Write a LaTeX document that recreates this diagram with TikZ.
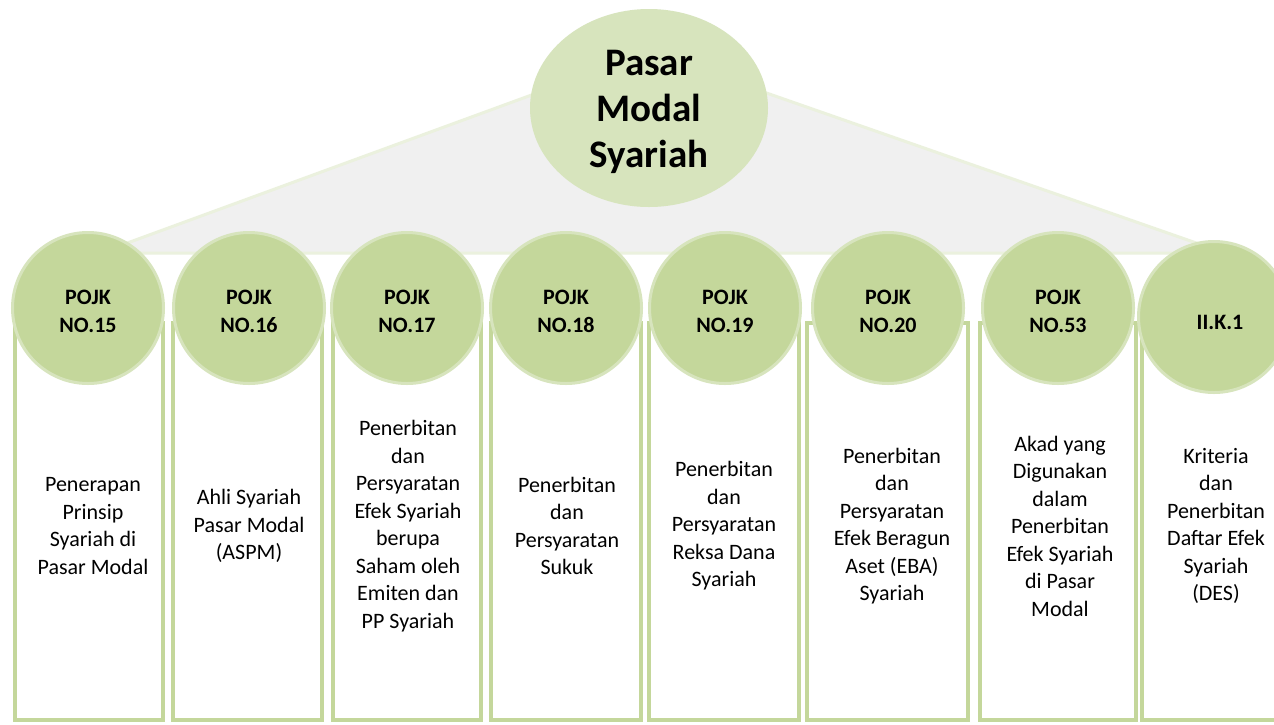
\documentclass[tikz,border=0pt]{standalone}
\usepackage{fontspec}
\setmainfont{Carlito}
\usetikzlibrary{positioning,shapes.geometric}
\definecolor{hijau}{HTML}{C4D79B}
\definecolor{hijaumuda}{HTML}{D7E4BD}
\definecolor{hijaupucat}{HTML}{EBF1DE}
\definecolor{abu}{HTML}{F0F0F0}
\tikzset{
  pojk/.style={circle, fill=hijau, draw=hijaumuda, line width=3pt, minimum size=151pt, inner sep=0pt},
  pojkteks/.style={align=center, inner sep=0pt, font=\fontsize{22}{28}\selectfont\bfseries},
  kolom/.style={rectangle, draw=hijau, fill=white, line width=4pt, minimum height=397pt, inner sep=0pt},
  isi/.style={align=center, inner sep=0pt, font=\fontsize{22}{27.5}\selectfont},
  induk/.style={ellipse, fill=hijaumuda, minimum width=238pt, minimum height=198pt, inner sep=0pt},
  indukteks/.style={align=center, inner sep=0pt, font=\fontsize{39}{46}\selectfont\bfseries}
}
\begin{document}
\begin{tikzpicture}[x=1pt,y=-1pt]
\clip (0,0) rectangle (1274,724);
\fill[white] (0,0) rectangle (1274,724);
% atap segitiga
\coordinate (puncak) at (649,52);
\coordinate (kiri) at (100,253);
\coordinate (kanan) at (1225,253);
\filldraw[fill=abu, draw=hijaupucat, line width=3pt] (puncak) -- (kiri) -- (kanan) -- cycle;
% kolom
\node[kolom, minimum width=148pt] (k1) at (89,521.5) {};
\node[kolom, minimum width=149pt] (k2) at (247.5,521.5) {};
\node[kolom, minimum width=148pt] (k3) at (407,521.5) {};
\node[kolom, minimum width=150pt] (k4) at (566,521.5) {};
\node[kolom, minimum width=150pt] (k5) at (724,521.5) {};
\node[kolom, minimum width=161pt] (k6) at (887.5,521.5) {};
\node[kolom, minimum width=156pt] (k7) at (1058,521.5) {};
\node[kolom, minimum width=150pt] (k8) at (1217,521.5) {};
% isi kolom
\node[isi] (t1) at (93,526) {Penerapan\\Prinsip\\Syariah di\\Pasar Modal};
\node[isi] (t2) at (249,526) {Ahli Syariah\\Pasar Modal\\(ASPM)};
\node[isi] (t3) at (408,526) {Penerbitan\\dan\\Persyaratan\\Efek Syariah\\berupa\\Saham oleh\\Emiten dan\\PP Syariah};
\node[isi] (t4) at (567,526) {Penerbitan\\dan\\Persyaratan\\Sukuk};
\node[isi] (t5) at (724,526) {Penerbitan\\dan\\Persyaratan\\Reksa Dana\\Syariah};
\node[isi] (t6) at (892,526) {Penerbitan\\dan\\Persyaratan\\Efek Beragun\\Aset (EBA)\\Syariah};
\node[isi] (t7) at (1060,526) {Akad yang\\Digunakan\\dalam\\Penerbitan\\Efek Syariah\\di Pasar\\Modal};
\node[isi] (t8) at (1216,526) {Kriteria\\dan\\Penerbitan\\Daftar Efek\\Syariah\\(DES)};
% lingkaran
\node[pojk] (p15) at (88,308) {};
\node[pojk] (p16) at (249,308) {};
\node[pojk] (p17) at (407,308) {};
\node[pojk] (p18) at (566,308) {};
\node[pojk] (p19) at (725,308) {};
\node[pojk] (p20) at (888,308) {};
\node[pojk] (p53) at (1058,308) {};
\node[pojk] (ik1) at (1214,317) {};
\node[pojkteks] (l15) at (88,311) {POJK\\NO.15};
\node[pojkteks] (l16) at (249,311) {POJK\\NO.16};
\node[pojkteks] (l17) at (407,311) {POJK\\NO.17};
\node[pojkteks] (l18) at (566,311) {POJK\\NO.18};
\node[pojkteks] (l19) at (725,311) {POJK\\NO.19};
\node[pojkteks] (l20) at (888,311) {POJK\\NO.20};
\node[pojkteks] (l53) at (1058,311) {POJK\\NO.53};
\node[pojkteks] (lik) at (1220,322) {II.K.1};
% pusat
\node[induk] (pms) at (649,108) {};
\node[indukteks] (lpms) at (649,112) {Pasar\\Modal\\Syariah};
\end{tikzpicture}
\end{document}
